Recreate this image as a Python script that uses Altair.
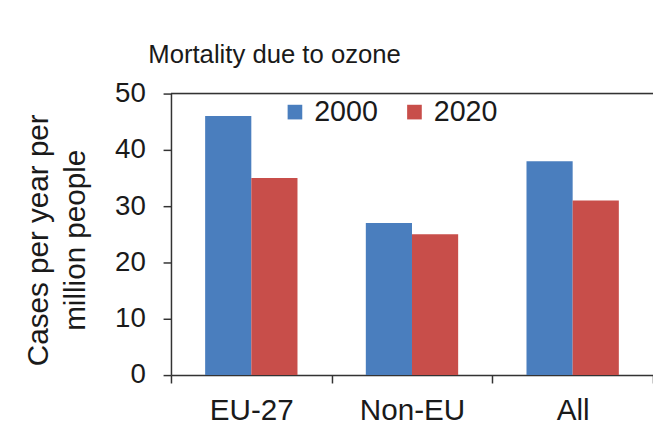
import altair as alt
import pandas as pd

regions = ["EU-27", "Non-EU", "All"]
years = ["2000", "2020"]
values_2000 = [46, 27, 38]
values_2020 = [35, 25, 31]
colors = ["#4a7ebe", "#c84e4a"]
y_ticks = [0, 10, 20, 30, 40, 50]

rows = []
for i, r in enumerate(regions):
    rows.append({"region": r, "year": years[0], "value": values_2000[i]})
    rows.append({"region": r, "year": years[1], "value": values_2020[i]})
df = pd.DataFrame(rows)

FONT = "Liberation Sans"

bars = alt.Chart(df).mark_bar().encode(
    x=alt.X("region:N", sort=regions,
            scale=alt.Scale(paddingInner=0, paddingOuter=0),
            axis=alt.Axis(title=None, labelAngle=0, tickBand="extent",
                          tickSize=8, labelPadding=13, labelFontSize=30,
                          labelFont=FONT, labelColor="#1a1a1a",
                          domainColor="#333333", domainWidth=1.5,
                          tickColor="#333333", tickWidth=1.5)),
    xOffset=alt.XOffset("year:N", sort=years,
                        scale=alt.Scale(paddingInner=0, paddingOuter=0.74)),
    y=alt.Y("value:Q", scale=alt.Scale(domain=[0, 50], nice=False),
            axis=alt.Axis(values=y_ticks, grid=False, tickSize=8,
                          labelPadding=18, labelFontSize=28, labelFont=FONT,
                          labelColor="#1a1a1a",
                          domainColor="#333333", domainWidth=1.5,
                          tickColor="#333333", tickWidth=1.5,
                          title=["Cases per year per", "million people"],
                          titleFont=FONT, titleFontSize=30,
                          titleFontWeight="normal", titleColor="#1a1a1a",
                          titleLineHeight=37, titleAngle=-90,
                          titleAlign="center", titleBaseline="top",
                          titleX=-149, titleY=148)),
    color=alt.Color("year:N", sort=years,
                    scale=alt.Scale(domain=years, range=colors),
                    legend=alt.Legend(title=None, orient="none",
                                      direction="horizontal",
                                      legendX=111, legendY=4,
                                      symbolType="square", symbolSize=220,
                                      symbolStrokeWidth=0,
                                      labelFontSize=29, labelFont=FONT,
                                      labelColor="#1a1a1a", labelOffset=5,
                                      columnPadding=22, padding=0)),
)

top_line = alt.Chart(pd.DataFrame({"y": [50]})).mark_rule(
    color="#333333", strokeWidth=1.5
).encode(y=alt.Y("y:Q"))

chart = alt.layer(bars, top_line).properties(
    width=488,
    height=285,
    title=alt.TitleParams("Mortality due to ozone", anchor="start",
                          frame="group", dx=-23,
                          fontSize=26, font=FONT, fontWeight="normal",
                          color="#1a1a1a", offset=12),
    autosize=alt.AutoSizeParams(type="none"),
    padding={"left": 165, "top": 84, "right": 0, "bottom": 56},
).configure_view(stroke=None).configure(background="white")

chart.save("out.html", embed_options={"renderer": "svg", "actions": False})
